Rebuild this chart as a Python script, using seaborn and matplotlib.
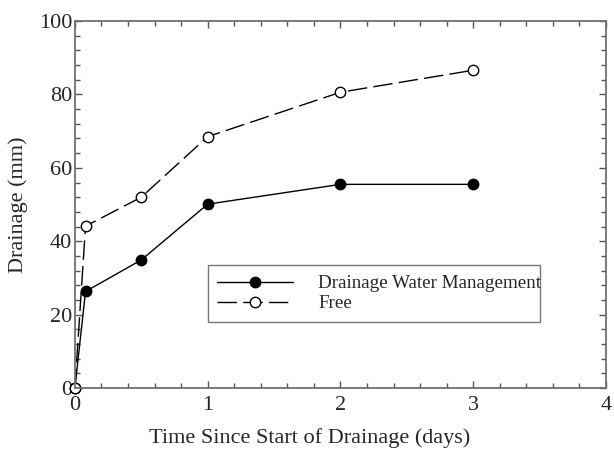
import matplotlib
matplotlib.use("Agg")
import matplotlib.pyplot as plt
import seaborn as sns
import pandas as pd
from matplotlib.ticker import MultipleLocator

time_days = [0, 0.08, 0.5, 1, 2, 3]
dwm = [0, 26.3, 34.9, 50.1, 55.5, 55.5]
free = [0, 44.1, 52.0, 68.5, 80.6, 86.6]
series_labels = ["Drainage Water Management", "Free"]

sns.set_style("ticks")
plt.rcParams['font.family'] = ['Liberation Serif', 'DejaVu Serif']

fig = plt.figure(figsize=(6.14, 4.53), dpi=100)
ax = fig.add_axes([0.122, 0.1435, 0.865, 0.81])

sns.lineplot(x=time_days, y=dwm, ax=ax, color='black', lw=1.0, marker='o',
             markersize=7.5, markeredgecolor='black', markerfacecolor='black',
             markeredgewidth=1.0, label=series_labels[0], clip_on=False)
sns.lineplot(x=time_days, y=free, ax=ax, color='black', lw=1.0, marker='o',
             markersize=7.5, markeredgecolor='black', markerfacecolor='white',
             markeredgewidth=1.0, linestyle=(0, (14, 4.5)), label=series_labels[1],
             clip_on=False)

ax.set_xlim(0, 4)
ax.set_ylim(0, 100)
ax.xaxis.set_major_locator(MultipleLocator(1))
ax.xaxis.set_minor_locator(MultipleLocator(0.2))
ax.yaxis.set_major_locator(MultipleLocator(20))
ax.yaxis.set_minor_locator(MultipleLocator(4))
ax.tick_params(which='both', direction='in', top=True, right=True,
               color='#555555', labelsize=16)
ax.tick_params(which='major', length=5, width=1)
ax.tick_params(which='minor', length=3.5, width=1)
ax.tick_params(axis='x', pad=6)
ax.tick_params(axis='y', pad=2)
for s in ax.spines.values():
    s.set_visible(True)
    s.set_color('#707070')
    s.set_linewidth(1.3)

ax.set_xlabel("Time Since Start of Drainage (days)", fontsize=16)
ax.xaxis.set_label_coords(0.4426, -0.108)
ax.set_ylabel("Drainage (mm)", fontsize=16, labelpad=8)

leg = ax.legend(loc='lower left', bbox_to_anchor=(0.25, 0.18, 0.625, 0.165),
                mode='expand', frameon=True, fancybox=False, fontsize=13.7,
                handlelength=4.0, borderpad=0.5, labelspacing=0.15,
                handletextpad=1.3, borderaxespad=0)
leg.get_frame().set_edgecolor('#555555')
leg.get_frame().set_linewidth(1.0)

fig.savefig("out.png", dpi=100)
